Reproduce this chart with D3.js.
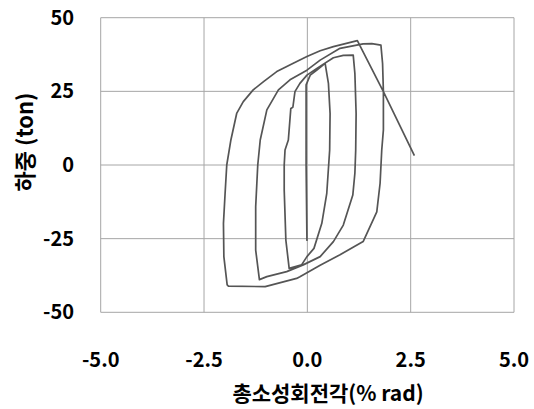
<!DOCTYPE html>
<html><head><meta charset="utf-8">
<script src="https://cdn.jsdelivr.net/npm/d3@7"></script>
<style>body{margin:0;background:#fff}svg{display:block}text{font-family:"Noto Sans CJK KR","Noto Sans",sans-serif;font-weight:bold;fill:#000}</style>
</head><body><div id="chart"></div>
<script>
const xTicks=[-5,-2.5,0,2.5,5];
const yTicks=[-50,-25,0,25,50];
const drift=[-0.03,-0.01,-0.03,-0.03,-0.03,0.07,0.23,0.43,
0.51,0.55,0.54,0.47,0.35,0.16,-0.01,-0.14,-0.44,
-0.52,-0.56,-0.56,-0.54,-0.46,-0.40,-0.35,-0.30,-0.18,-0.01,0.23,0.63,0.87,1.11,
1.15,1.18,1.17,1.15,1.10,0.87,0.63,0.31,-0.10,-0.50,-0.98,-1.16,
-1.25,-1.25,-1.20,-1.14,-0.98,-0.70,-0.42,-0.01,0.31,0.79,1.35,1.56,1.78,
1.82,1.84,1.84,1.80,1.76,1.68,1.35,0.79,0.31,-0.18,-0.26,-1.02,-1.91,
-1.94,-2.02,-2.03,-1.99,-1.95,-1.85,-1.71,-1.55,-1.31,-1.06,-0.74,-0.34,-0.01,0.31,0.63,1.21,
1.84,2.59];
const load=[0,-25.5,0,8.5,27.2,30.5,32.2,34.5,
27.7,17.5,5.1,-9.6,-19.8,-28.3,-31.1,-33.9,-35.1,
-25.5,-8.5,0,5.1,8.5,19.2,19.6,24.9,27.7,30.5,32.8,36.4,37.2,37.3,
31.1,17.5,5.1,-2.8,-10.2,-20.4,-26.0,-31.1,-33.9,-36.2,-37.9,-38.9,
-28.9,-14.2,0,8.5,18.7,25.5,28.9,32.2,35.6,39.6,41.1,41.2,40.7,
34.5,24.9,11.9,5.1,-6.2,-15.9,-26.0,-30.5,-34.0,-37.9,-38.5,-41.3,-41.1,
-40.7,-31.1,-19.8,-9.6,0,8.5,17.5,21.5,25.5,28.3,31.7,34.5,36.8,38.8,40.2,42.2,
24.9,3.2];
const xLabel="총소성회전각(% rad)";
const yLabel="하중 (ton)";

const W=534,H=409,m={l:100.7,r:534-514,t:17.7,b:409-312.3};
const svg=d3.select("#chart").append("svg").attr("width",W).attr("height",H);
const x=d3.scaleLinear().domain([-5,5]).range([m.l,W-m.r]);
const y=d3.scaleLinear().domain([-50,50]).range([H-m.b,m.t]);
const g=svg.append("g");
g.selectAll(".vx").data(xTicks).join("line").attr("x1",d=>x(d)).attr("x2",d=>x(d)).attr("y1",y(-50)).attr("y2",y(50)).attr("stroke","#a6a6a6").attr("stroke-width",1);
g.selectAll(".hy").data(yTicks).join("line").attr("y1",d=>y(d)).attr("y2",d=>y(d)).attr("x1",x(-5)).attr("x2",x(5)).attr("stroke","#a6a6a6").attr("stroke-width",1);
const pts=drift.map((d,i)=>[d,load[i]]);
svg.append("path").datum(pts).attr("fill","none").attr("stroke","#555").attr("stroke-width",1.7).attr("stroke-linejoin","round")
 .attr("d",d3.line().x(d=>x(d[0])).y(d=>y(d[1])));
const fmt=v=>d3.format(".1f")(v).replace("\u2212","-");
svg.selectAll(".xt").data(xTicks).join("text").attr("x",d=>x(d)).attr("y",367).attr("text-anchor","middle").attr("font-size",20).text(d=>fmt(d));
svg.selectAll(".yt").data(yTicks).join("text").attr("x",74).attr("y",d=>y(d)+7).attr("text-anchor","end").attr("font-size",20).text(d=>String(d));
svg.append("text").attr("x",328).attr("y",401).attr("text-anchor","middle").attr("font-size",21).text(xLabel);
svg.append("text").attr("transform","translate(33,142) rotate(-90)").attr("text-anchor","middle").attr("font-size",22).text(yLabel);
</script></body></html>
